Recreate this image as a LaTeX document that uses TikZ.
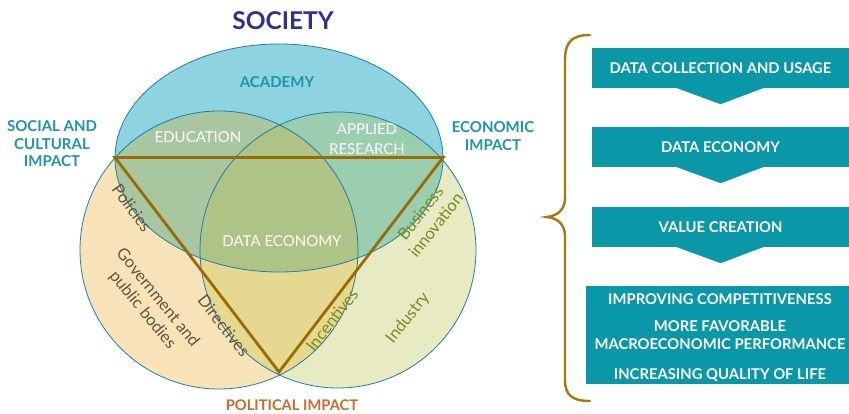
\documentclass[tikz,border=0pt]{standalone}
\usepackage{fontspec}
\setmainfont{Lato}
\definecolor{cA}{HTML}{8DD3E0}
\definecolor{cG}{HTML}{F7E3B7}
\definecolor{cI}{HTML}{E8EAC1}
\definecolor{cAG}{HTML}{A8C6A0}
\definecolor{cAI}{HTML}{9BCEAF}
\definecolor{cGI}{HTML}{E5D891}
\definecolor{cAGI}{HTML}{AEC486}
\definecolor{outl}{HTML}{1C7FAA}
\definecolor{tri}{HTML}{9A6A05}
\definecolor{teal}{HTML}{0A97A8}
\definecolor{tealtxt}{HTML}{1B96A8}
\definecolor{soc}{HTML}{2E3192}
\definecolor{pol}{HTML}{CD6A2D}
\definecolor{dgrey}{HTML}{5C5744}
\definecolor{olive}{HTML}{7A8A25}
\definecolor{brace}{HTML}{A8780A}
\tikzset{
  headtxt/.style={font=\bfseries\fontsize{15}{17.5}\selectfont, text=tealtxt, align=center},
  wtxt/.style={font=\fontsize{15}{20}\selectfont, text=white, align=center},
  slant/.style={font=\fontsize{16.5}{19.5}\selectfont, align=center, inner sep=1pt},
  boxstyle/.style={fill=teal, draw=none, inner sep=0pt, minimum width=257pt, minimum height=40pt,
     text=white, font=\bfseries\fontsize{14.8}{16}\selectfont},
  chev/.style={fill=teal, draw=none},
  boxtxt/.style={text=white, font=\bfseries\fontsize{14.8}{16}\selectfont, inner sep=0pt}
}
\begin{document}
\begin{tikzpicture}[x=1pt,y=-1pt]
\useasboundingbox (0,0) rectangle (849,414);
\def\pathA{(279,158) ellipse [x radius=164pt, y radius=114pt]}
\def\pathG{(219,250) circle [radius=139pt]}
\def\pathI{(338,250) circle [radius=138pt]}
% fills
\fill[cA] \pathA;
\fill[cG] \pathG;
\fill[cI] \pathI;
\begin{scope}\clip \pathG; \fill[cAG] \pathA; \end{scope}
\begin{scope}\clip \pathI; \fill[cAI] \pathA; \end{scope}
\begin{scope}\clip \pathG; \fill[cGI] \pathI; \end{scope}
\begin{scope}\clip \pathG; \clip \pathI; \fill[cAGI] \pathA; \end{scope}
% outlines
\draw[outl, line width=0.8pt] \pathA;
\draw[outl, line width=0.8pt] \pathG;
\draw[outl, line width=0.8pt] \pathI;
% triangle
\coordinate (tl) at (115,157.5);
\coordinate (tr) at (443,157.5);
\coordinate (tb) at (279,372);
\draw[tri, line width=2.8pt, line join=miter] (tl) -- (tr) -- (tb) -- cycle;
% texts
\node[font=\bfseries\fontsize{24.5}{26}\selectfont, text=soc] (society) at (283,21) {SOCIETY};
\node[font=\bfseries\fontsize{15}{17}\selectfont, text=tealtxt] (academy) at (277,82) {ACADEMY};
\node[headtxt] (social) at (52,144) {SOCIAL AND\\CULTURAL\\IMPACT};
\node[headtxt] (econ) at (493,136) {ECONOMIC\\IMPACT};
\node[font=\bfseries\fontsize{14.7}{16}\selectfont, text=pol] (polit) at (292,405) {POLITICAL IMPACT};
\node[wtxt] (edu) at (198,137) {EDUCATION};
\node[wtxt] (appl) at (367,139.5) {APPLIED\\RESEARCH};
\node[wtxt] (decon) at (282,241) {DATA ECONOMY};
\node[slant, text=dgrey, rotate=-54] (policies) at (132,208) {Policies};
\node[slant, text=dgrey, rotate=-52] (direct) at (224,326) {Directives};
\node[slant, text=dgrey, rotate=-51] (gov) at (150,304) {Government and\\public bodies};
\node[slant, text=olive, rotate=52] (busi) at (428,219) {Business\\innovation};
\node[slant, text=olive, rotate=52] (incent) at (332,320) {Incentives};
\node[slant, text=olive, rotate=52] (indus) at (408,318) {Industry};
% brace
\draw[brace, line width=2.4pt, line cap=round]
  (590,35) .. controls (572,35) and (565,42) .. (565,60) -- (565,198)
  .. controls (565,210) and (557,216) .. (547,217)
  .. controls (557,218) and (565,224) .. (565,236) -- (565,380)
  .. controls (565,395) and (572,401) .. (590,401);
% boxes
\node[boxstyle] (b1) at (720.5,68) {DATA COLLECTION AND USAGE};
\node[boxstyle] (b2) at (720.5,147) {DATA ECONOMY};
\node[boxstyle] (b3) at (720.5,227) {VALUE CREATION};
\fill[chev] ([xshift=-43.5pt]b1.south) -- ([xshift=42.5pt]b1.south) -- ([yshift=-16pt]b1.south) -- cycle;
\fill[chev] ([xshift=-43.5pt]b2.south) -- ([xshift=42.5pt]b2.south) -- ([yshift=-16pt]b2.south) -- cycle;
\fill[chev] ([xshift=-43.5pt]b3.south) -- ([xshift=42.5pt]b3.south) -- ([yshift=-16pt]b3.south) -- cycle;
\node[fill=teal, draw=none, inner sep=0pt, minimum width=263pt, minimum height=98pt] (b4) at (717.5,335) {};
\node[boxtxt] (t1) at (720,299) {IMPROVING COMPETITIVENESS};
\node[boxtxt, align=center, font=\bfseries\fontsize{14.8}{18}\selectfont] (t2) at (720,335) {MORE FAVORABLE\\MACROECONOMIC PERFORMANCE};
\node[boxtxt] (t3) at (720,375) {INCREASING QUALITY OF LIFE};
\end{tikzpicture}
\end{document}
